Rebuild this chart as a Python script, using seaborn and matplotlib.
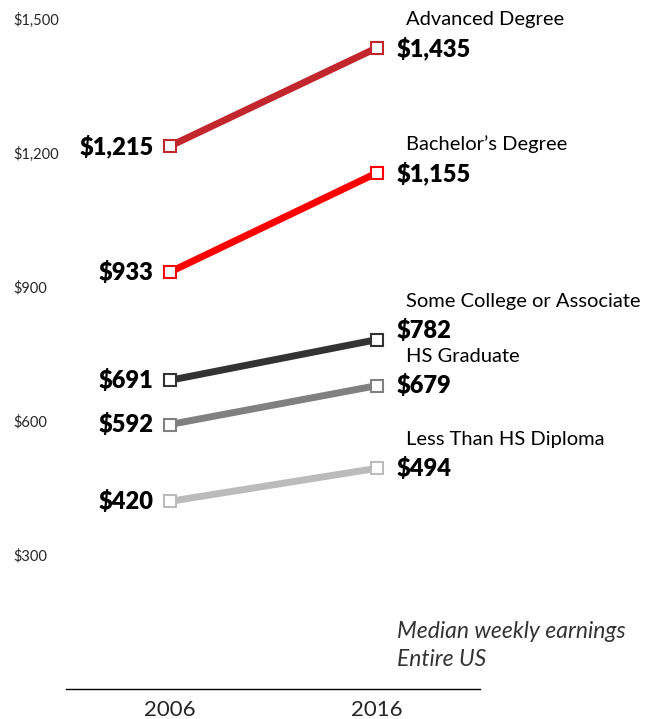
# Median weekly earnings by education level, 2006 vs 2016

import pandas as pd
import matplotlib
matplotlib.use("Agg")
import matplotlib.pyplot as plt
import seaborn as sns

# Data
years = [2006, 2016]
levels = ["Advanced Degree", "Bachelor\u2019s Degree", "Some College or Associate",
          "HS Graduate", "Less Than HS Diploma"]
earn_2006 = [1215, 933, 691, 592, 420]
earn_2016 = [1435, 1155, 782, 679, 494]
colors = ["#c1272d", "#ff0000", "#333333", "#808080", "#bbbbbb"]
y_ticks = [300, 600, 900, 1200, 1500]

sns.set_style("white")
plt.rcParams['font.family'] = ['Lato', 'DejaVu Sans']

df = pd.DataFrame({
    'level': [lv for lv in levels for _ in years],
    'year': years * len(levels),
    'earnings': [v for pair in zip(earn_2006, earn_2016) for v in pair],
})

fig = plt.figure(figsize=(6.57, 7.19), dpi=100)
ax = fig.add_axes([66 / 657, 30 / 719, 414 / 657, 670 / 719])

px = 0.72  # pixels -> points
# small vertical nudges for the right-hand labels (pixels)
nudge_right = {"Some College or Associate": -9}

for lv, col in zip(levels, colors):
    sub = df[df['level'] == lv]
    sns.lineplot(data=sub, x='year', y='earnings', ax=ax, color=col, linewidth=5,
                 marker='s', markersize=8, markerfacecolor='white',
                 markeredgecolor=col, markeredgewidth=1.5, clip_on=False)
    v0 = sub['earnings'].iloc[0]
    v1 = sub['earnings'].iloc[1]
    ax.annotate(f"\\${v0:,}", xy=(years[0], v0), xytext=(-16 * px, 0),
                textcoords='offset points', ha='right', va='center',
                fontsize=17, fontweight='heavy', color='black')
    dy = -nudge_right.get(lv, 0) * px
    ax.annotate(f"\\${v1:,}", xy=(years[1], v1), xytext=(20 * px, dy),
                textcoords='offset points', ha='left', va='center',
                fontsize=17, fontweight='heavy', color='black')
    ax.annotate(lv, xy=(years[1], v1), xytext=(30 * px, dy + 29 * px),
                textcoords='offset points', ha='left', va='center',
                fontsize=14.5, color='black')

ax.set_xlim(2001, 2021)
ax.set_ylim(0, 1500)
ax.set_xticks(years)
ax.set_xticklabels([str(y) for y in years], fontsize=16)
ax.set_yticks(y_ticks)
ax.set_yticklabels([f"\\${v:,}" for v in y_ticks], fontsize=10.5, ha='left')
ax.tick_params(axis='x', length=0, pad=8)
ax.tick_params(axis='y', length=0, pad=53 * px)
ax.set_xlabel('')
ax.set_ylabel('')
ax.grid(False)
for s in ['left', 'top', 'right']:
    ax.spines[s].set_visible(False)
ax.spines['bottom'].set_color('black')
ax.spines['bottom'].set_linewidth(1)

fig.text(397 / 657, 1 - 632 / 719, "Median weekly earnings", fontsize=16.5,
         style='italic', color='#333333', ha='left', va='center')
fig.text(397 / 657, 1 - 660 / 719, "Entire US", fontsize=16.5,
         style='italic', color='#333333', ha='left', va='center')

fig.savefig('out.png', dpi=100)
